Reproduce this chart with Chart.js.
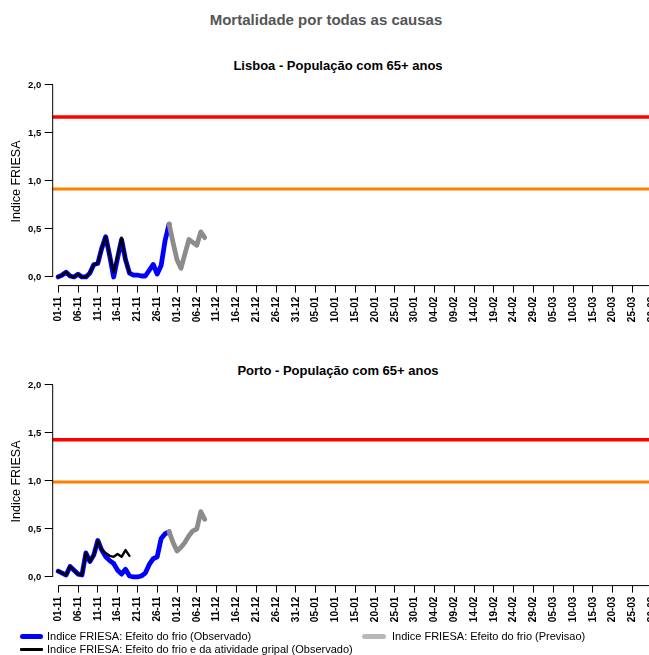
<!DOCTYPE html>
<html><head><meta charset="utf-8">
<script src="https://cdn.jsdelivr.net/npm/chart.js@4"></script>
<style>
html,body{margin:0;padding:0;background:#fff}
body{width:649px;height:655px;overflow:hidden;position:relative;font-family:"Liberation Sans",Arial,sans-serif}
.t{position:absolute;white-space:nowrap;transform:translateX(-50%)}
.lg{position:absolute;white-space:nowrap;font-size:11px;line-height:12px;color:#000}
.sw{position:absolute;border-radius:3px}
canvas{position:absolute;left:0}
</style></head><body>
<div class="t" style="left:326px;top:11px;font-size:15px;line-height:18px;font-weight:bold;color:#555">Mortalidade por todas as causas</div>
<div class="t" style="left:338px;top:58px;font-size:13px;line-height:16px;font-weight:bold;color:#000">Lisboa - População com 65+ anos</div>
<div class="t" style="left:338px;top:363px;font-size:13px;line-height:16px;font-weight:bold;color:#000">Porto - População com 65+ anos</div>
<canvas id="c1" width="649" height="300" style="top:40px"></canvas>
<canvas id="c2" width="649" height="300" style="top:340px"></canvas>
<div class="sw" style="left:20px;top:633.5px;width:23px;height:5px;background:#0000ff"></div>
<div class="lg" style="left:47px;top:630px">Indice FRIESA: Efeito do frio (Observado)</div>
<div class="sw" style="left:362px;top:633.5px;width:24px;height:5px;background:#b8b8b8"></div>
<div class="lg" style="left:392px;top:630px">Indice FRIESA: Efeito do frio (Previsao)</div>
<div class="sw" style="left:20px;top:648px;width:23px;height:2.5px;background:#000;border-radius:1px"></div>
<div class="lg" style="left:47px;top:643px">Indice FRIESA: Efeito do frio e da atividade gripal (Observado)</div>
<script>
// ---- tick labels ----
const xTickLabels = ['01-11','06-11','11-11','16-11','21-11','26-11','01-12','06-12','11-12','16-12','21-12','26-12','31-12','05-01','10-01','15-01','20-01','25-01','30-01','04-02','09-02','14-02','19-02','24-02','29-02','05-03','10-03','15-03','20-03','25-03','30-03'];
const yTickValues = [0, 0.5, 1, 1.5, 2];
const yTickLabels = ['0,0','0,5','1,0','1,5','2,0'];

// ---- Lisboa ----
const lisboaFrioStart = '01-11';
const lisboaFrio = [0.00,0.02,0.05,0.01,0.00,0.03,0.00,0.00,0.04,0.13,0.14,0.30,0.42,0.22,0.00,0.20,0.39,0.18,0.04,0.02,0.02,0.01,0.01,0.07,0.13,0.03,0.12,0.38,0.55];
const lisboaGripeStart = '01-11';
const lisboaGripe = [0.00,0.02,0.05,0.01,0.00,0.03,0.00,0.00,0.04,0.13,0.14,0.30,0.42,0.22,0.05,0.22,0.41,0.18,0.04];
const lisboaPrevStart = '29-11';
const lisboaPrev = [0.55,0.36,0.18,0.09,0.24,0.39,0.36,0.33,0.47,0.41];
const lisboaLimiarAlto = 1.667;
const lisboaLimiarMedio = 0.917;

// ---- Porto ----
const portoFrioStart = '01-11';
const portoFrio = [0.06,0.04,0.02,0.11,0.07,0.03,0.02,0.25,0.16,0.23,0.38,0.28,0.21,0.17,0.14,0.07,0.03,0.08,0.01,0.00,0.00,0.01,0.04,0.13,0.19,0.21,0.40,0.45,0.47];
const portoGripeStart = '01-11';
const portoGripe = [0.06,0.04,0.02,0.11,0.07,0.03,0.02,0.25,0.16,0.23,0.38,0.28,0.25,0.22,0.21,0.24,0.21,0.28,0.22];
const portoPrevStart = '29-11';
const portoPrev = [0.47,0.36,0.27,0.31,0.36,0.43,0.48,0.50,0.68,0.60];
const portoLimiarAlto = 1.43;
const portoLimiarMedio = 0.99;

// day index since 01-11 (season 2019/2020, leap year)
function dayOf(lbl){
  const [d,m] = lbl.split('-').map(Number);
  const y = m >= 11 ? 2019 : 2020;
  return Math.round((Date.UTC(y, m-1, d) - Date.UTC(2019,10,1)) / 86400000);
}
const xTickDays = xTickLabels.map(dayOf);
function pts(start, vals){ const s = dayOf(start); return vals.map((v,i)=>({x:s+i, y:v})); }

const X_MIN = -1.39, X_MAX = 149.19;
const Y_MIN = -0.09, Y_MAX = 2.08;

const rAxes = {
  id:'rAxes',
  afterDraw(chart){
    const {ctx, chartArea:a, scales:{x,y}} = chart;
    ctx.save(); ctx.strokeStyle='#000'; ctx.lineWidth=1;
    ctx.beginPath();
    const xt = x.ticks, yt = y.ticks;
    ctx.moveTo(x.getPixelForValue(xt[0].value), a.bottom);
    ctx.lineTo(x.getPixelForValue(xt[xt.length-1].value), a.bottom);
    ctx.moveTo(a.left, y.getPixelForValue(yt[0].value));
    ctx.lineTo(a.left, y.getPixelForValue(yt[yt.length-1].value));
    ctx.stroke(); ctx.restore();
  }
};

function hline(v, color, w){
  return {data:[{x:X_MIN,y:v},{x:X_MAX,y:v}], borderColor:color, borderWidth:w, pointRadius:0, borderCapStyle:'butt'};
}
function line(data, color, w){
  return {data, borderColor:color, borderWidth:w, pointRadius:0, tension:0, borderCapStyle:'round', borderJoinStyle:'round'};
}

function makeChart(id, frioS, frio, gripeS, gripe, prevS, prev, alto, medio){
  new Chart(document.getElementById(id), {
    type:'line',
    data:{datasets:[
      line(pts(gripeS, gripe), '#000000', 2.4),
      line(pts(prevS, prev), '#8c8c8c', 4.8),
      line(pts(frioS, frio), '#0000ff', 4.8),
      hline(alto, '#ff0000', 3.5),
      hline(medio, '#ff8000', 3)
    ]},
    options:{
      responsive:false, animation:false, devicePixelRatio:1,
      layout:{padding:{top:37.3,left:0,right:0,bottom:0}},
      plugins:{legend:{display:false}, tooltip:{enabled:false}},
      scales:{
        x:{type:'linear', min:X_MIN, max:X_MAX,
          afterBuildTicks:s=>{ s.ticks = xTickDays.map(v=>({value:v})); },
          afterFit:s=>{ s.height = 54.4; s.paddingLeft = 0; s.paddingRight = 0; },
          ticks:{autoSkip:false, minRotation:90, maxRotation:90, padding:4, color:'#000',
            font:{family:'Liberation Sans', size:10, weight:'bold'},
            callback:(v)=>{ const i = xTickDays.indexOf(v); return i>=0 ? xTickLabels[i] : ''; }},
          grid:{drawOnChartArea:false, drawTicks:true, tickLength:7, color:'#000', lineWidth:1},
          border:{display:false}
        },
        y:{type:'linear', min:Y_MIN, max:Y_MAX,
          afterBuildTicks:s=>{ s.ticks = yTickValues.map(v=>({value:v})); },
          afterFit:s=>{ s.width = 52.7; s.paddingTop = 0; s.paddingBottom = 0; },
          ticks:{padding:3.5, color:'#000', font:{family:'Liberation Sans', size:9.5, weight:'bold'},
            callback:(v)=>{ const i = yTickValues.indexOf(v); return i>=0 ? yTickLabels[i] : ''; }},
          grid:{drawOnChartArea:false, drawTicks:true, tickLength:8, color:'#000', lineWidth:1},
          border:{display:false},
          title:{display:true, text:'Indice FRIESA', color:'#000', padding:{top:9,bottom:0},
            font:{family:'Liberation Sans', size:12.5}}
        }
      }
    },
    plugins:[rAxes]
  });
}

makeChart('c1', lisboaFrioStart, lisboaFrio, lisboaGripeStart, lisboaGripe, lisboaPrevStart, lisboaPrev, lisboaLimiarAlto, lisboaLimiarMedio);
makeChart('c2', portoFrioStart, portoFrio, portoGripeStart, portoGripe, portoPrevStart, portoPrev, portoLimiarAlto, portoLimiarMedio);
</script>
</body></html>
